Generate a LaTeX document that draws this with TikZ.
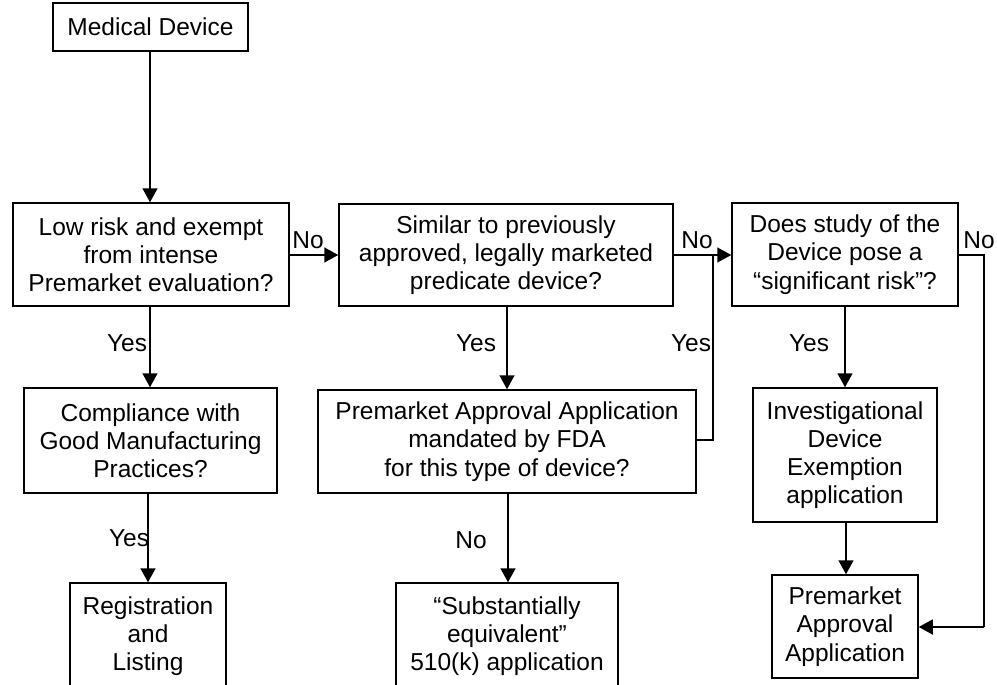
\documentclass[tikz,border=0pt]{standalone}
\usepackage{fontspec}
\setmainfont{Liberation Sans}
\usetikzlibrary{arrows.meta}
\begin{document}
\begin{tikzpicture}[x=1pt,y=-1pt,
  box/.style={draw,line width=1.5pt,rectangle,align=center,inner sep=0pt,
    font=\fontsize{24.5}{28.2}\selectfont},
  lbl/.style={inner sep=0pt,font=\fontsize{24.5}{28.2}\selectfont},
  arr/.style={line width=1.5pt,-{Triangle[length=14pt,width=15pt]}},
  ln/.style={line width=1.5pt}]
\useasboundingbox (0,0) rectangle (997,685);
\clip (0,0) rectangle (997,685);
\node[box,minimum width=195pt,minimum height=48pt] (md) at (150.5,27) {Medical Device};
\node[box,minimum width=276pt,minimum height=103pt] (low) at (151,254.5) {Low risk and exempt\\from intense\\Premarket evaluation?};
\node[box,minimum width=334pt,minimum height=102pt] (sim) at (506,255) {Similar to previously\\approved, legally marketed\\predicate device?};
\node[box,minimum width=226pt,minimum height=103pt] (does) at (845,254.5) {Does study of the\\Device pose a\\“significant risk”?};
\node[box,minimum width=253pt,minimum height=105pt] (comp) at (150.5,440.5) {Compliance with\\Good Manufacturing\\Practices?};
\node[box,minimum width=378pt,minimum height=103pt] (pma) at (507,441.5) {Premarket Approval Application\\mandated by FDA\\for this type of device?};
\node[box,minimum width=184pt,minimum height=134pt] (ide) at (845,455) {Investigational\\Device\\Exemption\\application};
\node[box,minimum width=156pt,minimum height=106pt] (reg) at (148,636) {Registration\\and\\Listing};
\node[box,minimum width=222pt,minimum height=106pt] (k510) at (507,636) {“Substantially\\equivalent”\\510(k) application};
\node[box,minimum width=146pt,minimum height=103pt] (pmaf) at (845,626.5) {Premarket\\Approval\\Application};
% labels
\node[lbl] (n1) at (308,240) {No};
\node[lbl] (n2) at (697,240) {No};
\node[lbl] (n3) at (979,240) {No};
\node[lbl] (y1) at (127,343) {Yes};
\node[lbl] (y2) at (476,343) {Yes};
\node[lbl] (y3) at (691,343) {Yes};
\node[lbl] (y4) at (809,343) {Yes};
\node[lbl] (y5) at (129,538) {Yes};
\node[lbl] (n4) at (471,540) {No};
% coordinates
\coordinate (j1) at (713,255);
\coordinate (j2) at (713,440);
\coordinate (r1) at (984,255);
\coordinate (r2) at (984,627);
% connectors
\draw[arr] (md.south -| 150,0) -- (150,0 |- low.north);
\draw[arr] (low.east |- 0,255) -- (sim.west |- 0,255);
\draw[arr] (sim.east |- 0,255) -- (does.west |- 0,255);
\draw[ln] (pma.east |- j2) -- (j2) -- (j1);
\draw[ln] (does.east |- r1) -- (r1) -- (r2);
\draw[arr] (r2) -- (pmaf.east |- r2);
\draw[arr] (low.south -| 150,0) -- (150,0 |- comp.north);
\draw[arr] (comp.south -| 148,0) -- (148,0 |- reg.north);
\draw[arr] (sim.south -| 507,0) -- (507,0 |- pma.north);
\draw[arr] (pma.south -| 508,0) -- (508,0 |- k510.north);
\draw[arr] (does.south) -- (does.south |- ide.north);
\draw[arr] (ide.south -| 846,0) -- (846,0 |- pmaf.north);
\end{tikzpicture}
\end{document}
